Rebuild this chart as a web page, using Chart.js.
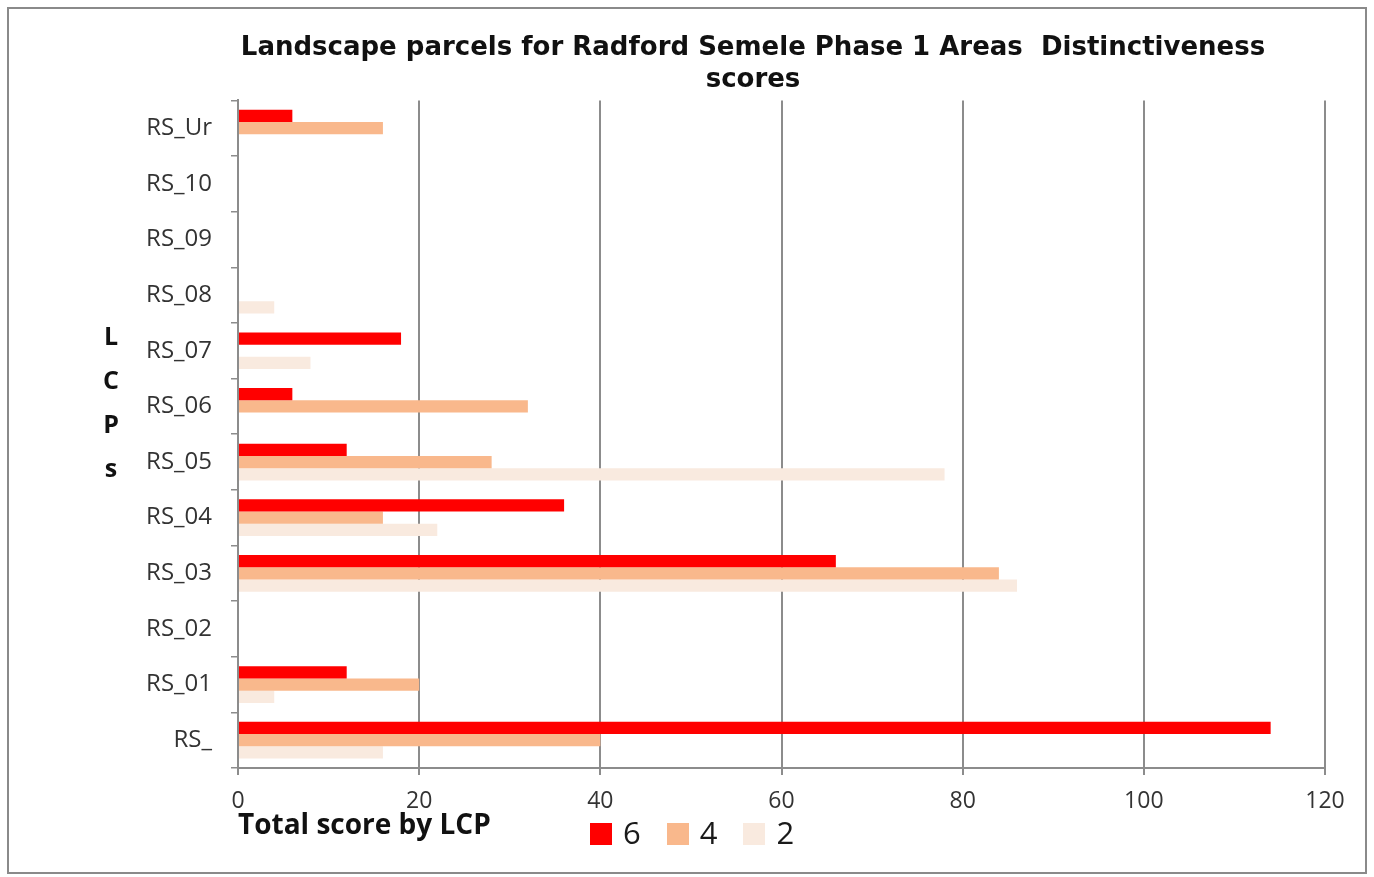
<!DOCTYPE html>
<html>
<head>
<meta charset="utf-8">
<script src="https://cdn.jsdelivr.net/npm/chart.js@4.4.1/dist/chart.umd.min.js"></script>
<style>
  body { margin: 0; background: #fff; }
  #wrap { position: relative; width: 1374px; height: 877px; }
  #frame { position: absolute; left: 7px; top: 7px; width: 1356px; height: 863px; border: 2px solid #8a8a8a; pointer-events: none; }
  #ytitle { position: absolute; left: 98px; top: 313px; width: 26px; text-align: center;
            font: bold 25px "Open Sans", sans-serif; line-height: 44px; color: #111; }
  #legend { position: absolute; left: 590px; top: 811px; display: flex; align-items: center;
            font: 31px "Open Sans", sans-serif; color: #1a1a1a; }
  #legend .item { display: flex; align-items: center; margin-right: 26px; }
  #legend .sw { width: 22px; height: 22px; margin-right: 11px; margin-top: 4px; }
</style>
</head>
<body>
<div id="wrap">
  <canvas id="chart" width="1374" height="877"></canvas>
  <div id="ytitle"></div>
  <div id="legend"></div>
  <div id="frame"></div>
</div>
<script>
// categories, top to bottom as shown
const parcels = ['RS_Ur', 'RS_10', 'RS_09', 'RS_08', 'RS_07', 'RS_06', 'RS_05', 'RS_04', 'RS_03', 'RS_02', 'RS_01', 'RS_'];
const score6 = [6, 0, 0, 0, 18, 6, 12, 36, 66, 0, 12, 114];
const score4 = [16, 0, 0, 0, 0, 32, 28, 16, 84, 0, 20, 40];
const score2 = [0, 0, 0, 4, 8, 0, 78, 22, 86, 0, 4, 16];
const xTicks = [0, 20, 40, 60, 80, 100, 120];
const seriesLabels = ['6', '4', '2'];
const seriesColors = ['#ff0000', '#f9b88c', '#f9eadf'];

const chartTitle = ['Landscape parcels for Radford Semele Phase 1 Areas  Distinctiveness', 'scores'];
const xTitle = 'Total score by LCP';
const yTitle = ['L', 'C', 'P', 's'];

document.getElementById('ytitle').innerHTML = yTitle.join('<br>');

const datasets = [score6, score4, score2].map((values, i) => ({
    label: seriesLabels[i],
    data: values,
    backgroundColor: seriesColors[i],
    borderWidth: 0,
    barPercentage: 1.0,
    categoryPercentage: 0.66
}));

// legend built from the datasets
const legendEl = document.getElementById('legend');
datasets.forEach(ds => {
    const item = document.createElement('div');
    item.className = 'item';
    const sw = document.createElement('span');
    sw.className = 'sw';
    sw.style.background = ds.backgroundColor;
    const txt = document.createElement('span');
    txt.textContent = ds.label;
    item.appendChild(sw);
    item.appendChild(txt);
    legendEl.appendChild(item);
});

// shift the title box so it centres a little left of the plot area
const titleShift = {
    id: 'titleShift',
    afterLayout: chart => {
        if (!chart.titleBlock) return;
        chart.titleBlock.left = chart.chartArea.left - 57;
        chart.titleBlock.right = chart.chartArea.right;
    }
};

new Chart(document.getElementById('chart').getContext('2d'), {
    type: 'bar',
    data: { labels: parcels, datasets: datasets },
    options: {
        indexAxis: 'y',
        responsive: false,
        animation: false,
        layout: { padding: { left: 60, right: 49, top: 0, bottom: 9 } },
        scales: {
            x: {
                min: 0,
                max: 120,
                afterBuildTicks: scale => { scale.ticks = xTicks.map(v => ({ value: v })); },
                afterFit: scale => { scale.height = 100; },
                grid: { color: '#8c8c8c', lineWidth: 2, tickLength: 7, drawTicks: true },
                border: { display: true, color: '#8c8c8c', width: 2 },
                ticks: { color: '#333', font: { family: 'Open Sans', size: 23 }, padding: 13 },
                title: {
                    display: true, text: xTitle, align: 'start', color: '#111',
                    font: { family: 'Open Sans', size: 28, weight: 'bold' },
                    padding: { top: 0, bottom: 25 }
                }
            },
            y: {
                afterFit: scale => { scale.width = 178; },
                grid: { display: true, drawOnChartArea: false, offset: true, tickLength: 7, color: '#8c8c8c', lineWidth: 1.5 },
                border: { display: true, color: '#8c8c8c', width: 2 },
                ticks: { color: '#333', font: { family: 'Open Sans', size: 24 }, padding: 19 }
            }
        },
        plugins: {
            legend: { display: false },
            tooltip: { enabled: false },
            title: {
                display: true,
                text: chartTitle,
                color: '#111',
                font: { family: 'DejaVu Sans', size: 26, weight: 'bold', lineHeight: 1.2 },
                padding: { top: 33, bottom: 5 }
            }
        }
    },
    plugins: [titleShift]
});
</script>
</body>
</html>
